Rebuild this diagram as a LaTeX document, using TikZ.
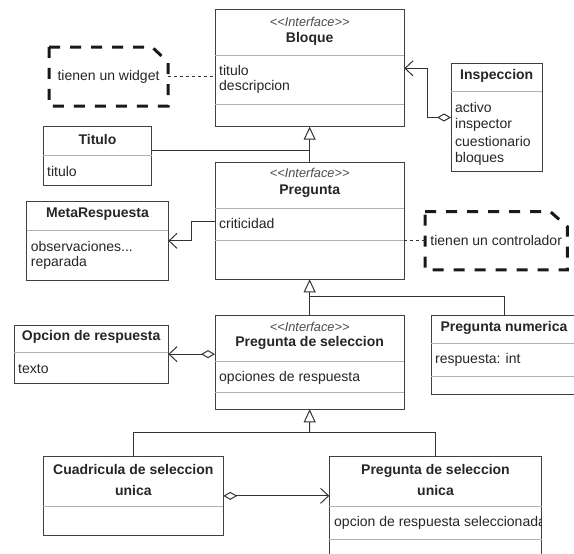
\documentclass[tikz,border=0pt]{standalone}
\usepackage{fontspec}
\setmainfont{Liberation Sans}
\usetikzlibrary{arrows.meta}

\tikzset{
  cls/.style={draw=black!75, line width=1pt, fill=white, anchor=north west, inner sep=0pt, outer sep=0pt},
  sep/.style={draw=black!30, line width=1pt},
  cname/.style={font=\bfseries\fontsize{14}{20.7}\selectfont, text=black!85, inner sep=0pt, align=center},
  stereo/.style={font=\itshape\fontsize{12.8}{13}\selectfont, text=black!70, inner sep=0pt},
  attr/.style={font=\fontsize{14}{16}\selectfont, text=black!85, anchor=west, inner sep=0pt},
  notebox/.style={font=\fontsize{14}{16}\selectfont, text=black!85, inner sep=0pt, outer sep=0pt},
  notedash/.style={line width=3pt, dash pattern=on 11pt off 10pt, black!90},
  conn/.style={line width=1pt, black!80},
  gen/.style={conn, -{Triangle[open, length=13pt, width=12pt]}},
  agg/.style={conn, {Diamond[open, length=14pt, width=8pt]}-{Straight Barb[length=8pt, width=15pt]}},
  dep/.style={line width=1pt, black!80, dash pattern=on 3pt off 3pt},
}

\newcommand{\iface}{<\kern0pt<Interface>\kern0pt>}

\begin{document}
\begin{tikzpicture}[x=1pt, y=-1pt]
  \path[use as bounding box, clip] (0,0) rectangle (574,554);

  % clases
  \node[cls, minimum width=189.3pt, minimum height=117.7pt] (bloque) at (215,9) {};
  \node[cls, minimum width=108.4pt, minimum height=59pt] (titulo) at (43.3,126.7) {};
  \node[cls, minimum width=91.3pt, minimum height=108.4pt] (inspeccion) at (451,63.3) {};
  \node[cls, minimum width=189.3pt, minimum height=117pt] (pregunta) at (215,162.3) {};
  \node[cls, minimum width=141.6pt, minimum height=78.3pt] (meta) at (26.7,201.7) {};
  \node[cls, minimum width=189.3pt, minimum height=94.3pt] (pregsel) at (215,315) {};
  \node[cls, minimum width=146pt, minimum height=79.3pt] (pregnum) at (431,315) {};
  \node[cls, minimum width=154.3pt, minimum height=58.3pt] (opcion) at (14,325) {};
  \node[cls, minimum width=180pt, minimum height=78.3pt] (cuadricula) at (43.3,456.7) {};
  \node[cls, minimum width=212.4pt, minimum height=120pt] (psu) at (329.3,456.7) {};

  \foreach \xa/\xb/\y in {215/404.3/55, 215/404.3/104.3, 43.3/151.7/155, 451/542.3/91,
      215/404.3/208.3, 215/404.3/240, 26.7/168.3/230.7, 215/404.3/361, 215/404.3/392.7,
      431/577/343.3, 431/577/376.7, 14/168.3/352.7, 43.3/223.3/506.7,
      329.3/541.7/506.7, 329.3/541.7/539.3}
    \draw[sep] (\xa,\y) -- (\xb,\y);

  % nombres
  \node[stereo] (bloqueS) at (309.7,22) {\iface};
  \node[cname] (bloqueN) at (309.7,38.5) {Bloque};
  \node[cname] (tituloN) at (97.5,139.3) {Titulo};
  \node[cname] (inspeccionN) at (496.7,76) {Inspeccion};
  \node[stereo] (preguntaS) at (309.7,173.3) {\iface};
  \node[cname] (preguntaN) at (309.7,190.7) {Pregunta};
  \node[cname] (metaN) at (97.5,214.3) {MetaRespuesta};
  \node[stereo] (pregselS) at (309.7,326.7) {\iface};
  \node[cname] (pregselN) at (309.7,343.3) {Pregunta de seleccion};
  \node[cname] (pregnumN) at (504,328.3) {Pregunta numerica};
  \node[cname] (opcionN) at (91.2,336.7) {Opcion de respuesta};
  \node[cname] (cuadriculaN) at (133.3,479.7) {Cuadricula de seleccion\\unica};
  \node[cname] (psuN) at (435.5,479.7) {Pregunta de seleccion\\unica};

  % atributos
  \node[attr] (bloqueA1) at (219,70.7) {titulo};
  \node[attr] (bloqueA2) at (219,87.3) {descripcion};
  \node[attr] (tituloA1) at (47,171.7) {titulo};
  \foreach \t [count=\i] in {activo,inspector,cuestionario,bloques}
    \node[attr] (inspeccionA\i) at (455,{90.6+17.1*\i}) {\t};
  \node[attr] (preguntaA1) at (219,223.3) {criticidad};
  \node[attr] (metaA1) at (30.7,246.7) {observaciones...};
  \node[attr] (metaA2) at (30.7,263.3) {reparada};
  \node[attr] (pregselA1) at (219,377.7) {opciones de respuesta};
  \node[attr] (pregnumA1) at (435,360) {respuesta: int};
  \node[attr] (opcionA1) at (18,369) {texto};
  \begin{scope}
    \clip (329.3,506.7) rectangle (541.7,539.3);
    \node[attr] (psuA1) at (334,523.3) {opcion de respuesta seleccionada};
  \end{scope}

  % notas
  \node[notebox, minimum width=119pt, minimum height=59pt] (widget) at (108.5,76.5) {tienen un widget};
  \draw[notedash] (widget.north west) -- ([xshift=-16pt]widget.north east)
    -- ([yshift=-15pt]widget.north east) -- (widget.south east) -- (widget.south west) -- cycle;
  \node[notebox, minimum width=142.3pt, minimum height=58.3pt] (control) at (496.2,240.8) {tienen un controlador};
  \draw[notedash] (control.north west) -- ([xshift=-17pt]control.north east)
    -- ([yshift=-15pt]control.north east) -- (control.south east) -- (control.south west) -- cycle;
  \draw[dep] (widget.east) -- (widget.east -| bloque.west);
  \draw[dep] (control.west) -- (control.west -| pregunta.east);

  % herencia
  \coordinate (j1) at (309.7,296.7);
  \coordinate (j2) at (309.7,432.3);
  \draw[gen] (pregunta.north) -- (bloque.south);
  \draw[conn] (titulo.east |- 0,150) -- (bloque.south |- 0,150);
  \draw[gen] (pregsel.north) -- (pregunta.south);
  \draw[conn] (pregnum.north) |- (j1);
  \draw[gen] (j2) -- (pregsel.south);
  \draw[conn] (cuadricula.north) |- (j2) -| (psu.north);

  % asociaciones
  \draw[agg] (inspeccion.west) -- ++(-24,0) |- (bloque.east |- 0,68.3);
  \draw[conn, -{Straight Barb[length=8pt, width=15pt]}] (pregunta.west |- 0,221.7) -- ++(-23.3,0) |- (meta.east);
  \draw[agg] (pregsel.west |- opcion.east) -- (opcion.east);
  \draw[agg] (cuadricula.east) -- (cuadricula.east -| psu.west);
\end{tikzpicture}
\end{document}
